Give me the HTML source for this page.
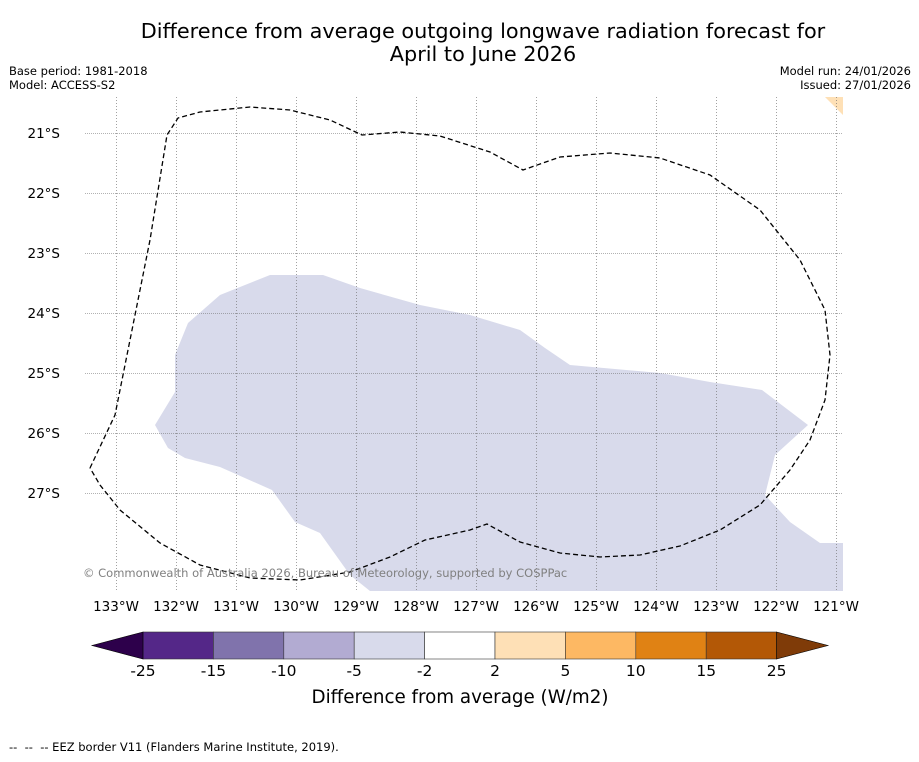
<!DOCTYPE html>
<html><head><meta charset="utf-8"><style>
body{margin:0;background:#fff;font-family:"DejaVu Sans","Liberation Sans",sans-serif;}
svg text{font-family:"DejaVu Sans","Liberation Sans",sans-serif;}
</style></head><body>
<svg id="chart" width="919" height="758" xmlns="http://www.w3.org/2000/svg">
<rect width="919" height="758" fill="#fff"/>
<text x="483" y="38" font-size="20.8" text-anchor="middle">Difference from average outgoing longwave radiation forecast for</text>
<text x="483" y="61" font-size="20.8" text-anchor="middle">April to June 2026</text>
<text x="9" y="75" font-size="11.5">Base period: 1981-2018</text>
<text x="9" y="89" font-size="11.5">Model: ACCESS-S2</text>
<text x="911" y="75" font-size="11.5" text-anchor="end">Model run: 24/01/2026</text>
<text x="911" y="89" font-size="11.5" text-anchor="end">Issued: 27/01/2026</text>
<g id="map">
<polygon fill="#d8daeb" points="175,355 188,323 220,295 270,275 323,275 360,288 420,305 470,315 520,330 545,348 570,365 660,373 710,382 762,390 808,425 775,455 765,495 790,522 820,543 843,543 843,591 370,591 350,575 320,533 295,522 272,490 220,467 185,458 168,448 155,425 175,392"/>
<polygon fill="#fee0b6" points="825,97 843,97 843,115"/>
<g id="grid"></g>
<polyline fill="none" stroke="#000" stroke-width="1.3" stroke-dasharray="5,3" points="90,468 115,415 130,340 150,240 167,135 178,118 200,112 250,107 290,110 330,120 362,135 400,132 440,136 490,152 523,170 560,157 610,153 660,158 710,175 760,210 800,260 825,310 830,355 825,400 810,440 790,470 760,505 720,530 680,546 640,555 600,557 560,553 520,542 487,524 470,530 425,540 390,557 350,572 300,580 250,578 200,565 160,543 120,510 100,485 90,468"/>
<text x="83" y="577" font-size="11.5" fill="#808080">© Commonwealth of Australia 2026, Bureau of Meteorology, supported by COSPPac</text>
</g>
<g id="axes"></g>
<g id="cbar"></g>
<text x="460" y="703" font-size="18.3" text-anchor="middle">Difference from average (W/m2)</text>
<text x="9" y="751" font-size="11.5" xml:space="preserve" style="white-space:pre">--  --  -- EEZ border V11 (Flanders Marine Institute, 2019).</text>
</svg>
<script>
const lonTicks=[133,132,131,130,129,128,127,126,125,124,123,122,121];
const latTicks=[21,22,23,24,25,26,27];
const levels=[-25,-15,-10,-5,-2,2,5,10,15,25];
const levelColors=["#542788","#8073ac","#b2abd2","#d8daeb","#ffffff","#fee0b6","#fdb863","#e08214","#b35806"];
const extendColors=["#2d004b","#7f3b08"];
const NS="http://www.w3.org/2000/svg";
function xLon(l){return 116+(133-l)*60;}
function yLat(l){return 133+(l-21)*60;}
function mk(t,a,p){const e=document.createElementNS(NS,t);for(const k in a)e.setAttribute(k,a[k]);p.appendChild(e);return e;}
const grid=document.getElementById('grid'),axes=document.getElementById('axes'),cb=document.getElementById('cbar');
lonTicks.forEach(l=>{const x=xLon(l)+0.5;
 const ln=mk('line',{x1:x,x2:x,y1:97,y2:591,stroke:'#666','stroke-width':0.6,'stroke-dasharray':'1,2'},grid);
 
 
 const t=mk('text',{x:xLon(l),y:611,'font-size':13.5,'text-anchor':'middle'},axes);t.textContent=l+'°W';
 
 });
latTicks.forEach(l=>{const y=yLat(l)+0.5;
 const ln=mk('line',{x1:85,x2:843,y1:y,y2:y,stroke:'#666','stroke-width':0.6,'stroke-dasharray':'1,1'},grid);
 
 
 const t=mk('text',{x:60,y:yLat(l)+5,'font-size':13.5,'text-anchor':'end'},axes);t.textContent=l+'°S';
 
 });
const cx0=143,cw=70.4,cy=632,ch=27;
function xl(i){return cx0+i*cw;}
levelColors.forEach((c,i)=>{const r=mk('rect',{x:xl(i),y:cy,width:cw,height:ch,fill:c,stroke:'#333','stroke-width':0.6},cb);
 
 });
const tl=mk('polygon',{points:`${xl(0)},${cy} ${92},${cy+ch/2} ${xl(0)},${cy+ch}`,fill:extendColors[0],stroke:'#000','stroke-width':0.6},cb);


const n=levelColors.length;
const tr=mk('polygon',{points:`${xl(n)},${cy} ${828},${cy+ch/2} ${xl(n)},${cy+ch}`,fill:extendColors[1],stroke:'#000','stroke-width':0.6},cb);


levels.forEach((v,i)=>{const t=mk('text',{x:xl(i),y:676,'font-size':15.5,'text-anchor':'middle'},cb);t.textContent=v;
 
 });
</script>
</body></html>
